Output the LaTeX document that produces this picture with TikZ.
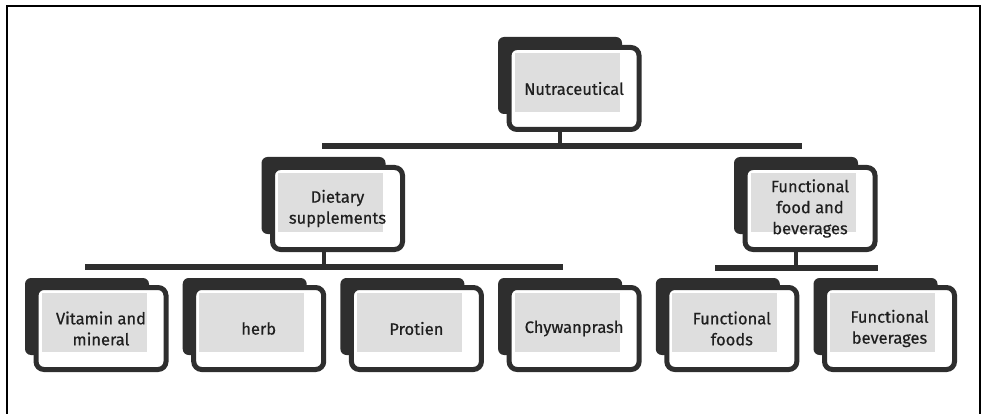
\documentclass[tikz,border=0pt]{standalone}
\usepackage{fontspec}
\setmainfont{Fira Sans}
\newfontfamily\boxfont{Fira Sans}[FakeBold=0.5]
\colorlet{boxdark}{black!82}
\colorlet{boxshade}{black!13}
\begin{document}
\begin{tikzpicture}[
  x=1pt, y=-1pt,
  backbox/.style={rectangle, rounded corners=6pt, fill=boxdark, inner sep=0pt, minimum width=124pt, minimum height=77pt},
  frontbox/.style={rectangle, rounded corners=8pt, draw=boxdark, line width=5pt, fill=white, inner sep=0pt, minimum width=130pt, minimum height=82pt},
  shadebox/.style={rectangle, fill=boxshade, inner sep=0pt, minimum width=105pt, minimum height=59pt},
  boxtext/.style={align=center, inner sep=0pt, font=\boxfont\fontsize{16.5}{21}\selectfont, text=black!88},
  bar/.style={draw=boxdark, line width=6pt},
  stem/.style={draw=boxdark, line width=4pt}
]
  \useasboundingbox (0,0) rectangle (985,414);

  % Rahmen
  \draw[line width=1.2pt] (7,414) -- (7,6) -- (980,6) -- (980,414);

  % Wurzel
  \node[backbox] (nutb) at (560,75.5) {};
  \node[frontbox] (nut) at (574,88.5) {};
  \node[shadebox] (nuts) at (567,82.5) {};
  \node[boxtext] (nutt) at (nut) {Nutraceutical};

  % Zweite Ebene
  \node[backbox] (dietb) at (323.5,195.5) {};
  \node[frontbox] (diet) at (337.5,208.5) {};
  \node[shadebox] (diets) at (330.5,202.5) {};
  \node[boxtext] (dietc) at (diet) {Dietary\\supplements};

  \node[backbox] (funcb) at (796,195.5) {};
  \node[frontbox] (func) at (810,208.5) {};
  \node[shadebox] (funcs) at (803,202.5) {};
  \node[boxtext] (funct) at (func) {Functional\\food and\\beverages};

  % Dritte Ebene
  \foreach \nm/\txt [count=\i from 0] in {vit/{Vitamin and\\mineral}, herb/herb, prot/Protien, chyw/Chywanprash, ffood/{Functional\\foods}, fbev/{Functional\\beverages}} {
    \pgfmathsetmacro{\cx}{101+157.7*\i}
    \node[backbox] (\nm b) at (\cx-14,316.5) {};
    \node[frontbox] (\nm) at (\cx,328.5) {};
    \node[shadebox] (\nm s) at (\cx-7,322.5) {};
    \node[boxtext] (\nm t) at (\nm) {\txt};
  }

  % Querbalken
  \coordinate (top w) at (322,146);
  \coordinate (top e) at (802,146);
  \coordinate (left w) at (85,267);
  \coordinate (left e) at (563,267);
  \coordinate (right w) at (715,268);
  \coordinate (right e) at (878,268);
  \draw[bar] (top w) -- (top e);
  \draw[bar] (left w) -- (left e);
  \draw[bar] (right w) -- (right e);

  % Stiele
  \draw[stem] (nutb.south |- nut.south) -- (nutb.south |- top w);
  \draw[stem] (dietb.south |- diet.south) -- (dietb.south |- left w);
  \draw[stem] (funcb.south |- func.south) -- (funcb.south |- right w);
\end{tikzpicture}
\end{document}
